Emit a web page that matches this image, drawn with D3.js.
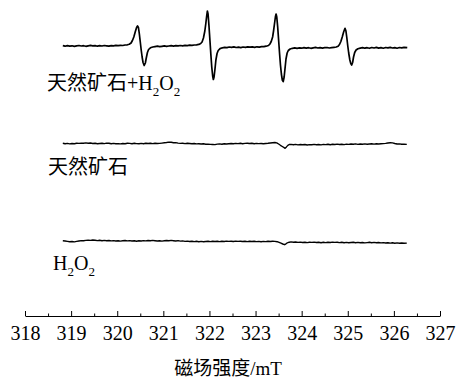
<!DOCTYPE html>
<html>
<head>
<meta charset="utf-8">
<script src="https://cdn.jsdelivr.net/npm/d3@7"></script>
<style>
  html, body { margin: 0; padding: 0; background: #fff; }
  svg { display: block; }
  text { font-family: "Liberation Serif", "Times New Roman", "Noto Sans CJK SC", serif; fill: #000; }
</style>
</head>
<body>
<svg width="456" height="378"></svg>
<script>
// EPR spectra, field in mT, intensity in a.u.
const majorTicks = [318, 319, 320, 321, 322, 323, 324, 325, 326, 327];
const minorTicks = [318.5, 319.5, 320.5, 321.5, 322.5, 323.5, 324.5, 325.5, 326.5];
const xTitle = '磁场强度/mT';

const traceNames = ['天然矿石+H2O2', '天然矿石', 'H2O2'];

// 天然矿石 + H2O2 : DMPO-OH quartet
const oreH2O2 = [
  [318.82,0.3],[318.87,-0.2],[318.92,0.4],[318.97,-0.1],[319.02,0.2],[319.07,-0.4],[319.12,0.1],[319.17,0.5],
  [319.22,0.0],[319.27,0.3],[319.32,-0.3],[319.37,0.2],[319.42,0.6],[319.47,0.1],[319.52,0.4],[319.57,-0.2],
  [319.62,0.3],[319.67,0.0],[319.72,0.5],[319.77,0.2],[319.82,-0.1],[319.87,0.4],[319.92,0.1],[319.97,0.6],
  [320.02,0.3],[320.07,0.7],[320.12,0.5],[320.17,1.0],[320.22,1.2],
  [320.26,1.8],[320.30,3.0],[320.33,5.5],[320.36,9],[320.39,14],[320.42,18.5],[320.44,20],[320.46,18.5],
  [320.48,12],[320.50,4],[320.52,-4],[320.54,-11],[320.56,-16.5],[320.585,-19.5],[320.61,-17],[320.63,-12],
  [320.655,-6.5],[320.68,-3.5],[320.72,-1.8],[320.77,-1.0],[320.82,-0.6],
  [320.87,-0.2],[320.92,-0.7],[320.97,-0.3],[321.02,0.1],[321.07,-0.4],[321.12,0.0],[321.17,0.3],[321.22,-0.1],
  [321.27,0.4],[321.32,0.1],[321.37,0.5],[321.42,0.2],[321.47,0.6],[321.52,0.3],[321.57,0.8],[321.62,0.6],
  [321.67,1.0],[321.72,1.2],[321.77,1.6],[321.81,2.5],
  [321.84,4],[321.87,8],[321.90,15],[321.92,22],[321.94,30],[321.955,35],[321.97,32],[321.99,20],[322.01,6],
  [322.03,-8],[322.05,-21],[322.07,-30],[322.085,-33.5],[322.10,-31],[322.12,-23],[322.14,-14],[322.165,-7.5],
  [322.19,-4.5],[322.23,-2.6],[322.28,-1.8],[322.33,-1.3],
  [322.38,-1.6],[322.43,-1.0],[322.48,-1.4],[322.53,-0.9],[322.58,-1.5],[322.63,-1.1],[322.68,-1.6],[322.73,-1.0],
  [322.78,-1.3],[322.83,-0.8],[322.88,-1.2],[322.93,-0.9],[322.98,-1.4],[323.03,-0.8],[323.08,-1.1],[323.13,-0.6],
  [323.18,-0.7],[323.23,-0.2],[323.28,0.5],
  [323.31,1.8],[323.34,4.5],[323.37,9],[323.39,15],[323.41,22],[323.43,29],[323.445,32],[323.46,29],[323.48,19],
  [323.50,6],[323.52,-7],[323.54,-19],[323.56,-28],[323.58,-34],[323.60,-35.7],[323.62,-31],[323.64,-22],
  [323.66,-13],[323.685,-7],[323.71,-4.5],[323.75,-3],[323.80,-2.3],
  [323.85,-1.9],[323.90,-2.3],[323.95,-1.8],[324.00,-2.2],[324.05,-1.6],[324.10,-2.1],[324.15,-1.7],[324.20,-2.3],
  [324.25,-1.8],[324.30,-1.4],[324.35,-2.0],[324.40,-1.6],[324.45,-2.1],[324.50,-1.7],[324.55,-1.5],[324.60,-2.0],
  [324.65,-1.6],[324.70,-1.3],[324.75,-1.0],
  [324.79,-0.2],[324.82,1.5],[324.85,4.5],[324.88,9],[324.91,14],[324.94,17.7],[324.96,15],[324.98,8],[325.00,0],
  [325.02,-7],[325.045,-14],[325.065,-17.5],[325.085,-19],[325.105,-16.5],[325.125,-11],[325.15,-6.5],[325.18,-4],
  [325.22,-2.7],[325.27,-2.1],
  [325.32,-1.6],[325.37,-2.2],[325.42,-1.7],[325.47,-2.3],[325.52,-1.5],[325.57,-2.0],[325.62,-1.4],[325.67,-2.1],
  [325.72,-1.6],[325.77,-2.2],[325.82,-1.5],[325.87,-1.9],[325.92,-1.4],[325.97,-2.0],[326.02,-1.6],[326.07,-2.2],
  [326.12,-1.5],[326.17,-1.9],[326.22,-1.4],[326.29,-1.7]
];

// 天然矿石 alone
const ore = [
  [318.82,0.2],[318.87,-0.3],[318.92,0.1],[318.97,-0.4],[319.02,0.0],[319.07,-0.2],[319.12,0.3],[319.17,0.1],
  [319.22,0.4],[319.27,0.2],[319.32,0.6],[319.37,0.3],[319.42,0.5],[319.47,0.0],[319.52,0.2],[319.57,-0.3],
  [319.62,0.0],[319.67,0.3],[319.72,-0.1],[319.77,0.4],[319.82,0.2],[319.87,-0.2],[319.92,0.1],[319.97,-0.3],
  [320.02,-0.1],[320.07,-0.4],[320.12,0.0],[320.17,-0.2],[320.22,0.3],[320.27,0.1],[320.32,-0.2],[320.37,0.2],
  [320.42,-0.1],[320.47,-0.3],[320.52,0.1],[320.57,-0.2],[320.62,0.3],[320.67,0.0],[320.72,0.3],[320.77,-0.1],
  [320.82,0.2],[320.87,0.0],[320.92,0.1],[320.97,0.4],[321.02,0.7],[321.07,1.0],[321.12,1.4],[321.17,1.2],
  [321.22,0.7],[321.27,0.9],[321.32,0.4],[321.37,0.1],[321.42,0.3],[321.47,-0.1],[321.52,0.2],[321.57,0.0],
  [321.62,-0.3],[321.67,0.0],[321.72,-0.4],[321.77,-0.2],[321.82,-0.5],[321.87,-0.3],[321.92,-0.7],[321.97,-0.6],
  [322.02,-0.9],[322.07,-1.0],[322.12,-1.1],[322.17,-0.6],[322.22,-0.4],[322.27,-0.7],[322.32,-0.3],[322.37,-0.5],
  [322.42,-0.2],[322.47,0.0],[322.52,-0.3],[322.57,0.1],[322.62,-0.1],[322.67,0.2],[322.72,-0.2],[322.77,0.1],
  [322.82,0.3],[322.87,0.0],[322.92,0.2],[322.97,-0.2],[323.02,0.1],[323.07,-0.1],[323.12,0.0],[323.17,-0.2],
  [323.22,0.0],[323.27,0.2],[323.32,0.5],[323.37,0.8],[323.42,1.0],[323.46,0.6],[323.50,-0.5],[323.54,-1.8],
  [323.58,-3.0],[323.62,-4.2],[323.64,-4.8],[323.67,-3.4],[323.70,-1.9],[323.73,-1.0],[323.77,-0.9],[323.82,-1.2],
  [323.87,-0.9],[323.92,-1.4],[323.97,-1.0],[324.02,-1.3],[324.07,-1.0],[324.12,-1.5],[324.17,-1.1],[324.22,-1.3],
  [324.27,-0.9],[324.32,-1.2],[324.37,-1.0],[324.42,-1.4],[324.47,-0.9],[324.52,-1.1],[324.57,-0.7],[324.62,-1.2],
  [324.67,-0.8],[324.72,-1.0],[324.77,-0.6],[324.82,-1.0],[324.87,-0.7],[324.92,-1.1],[324.97,-0.6],[325.02,-0.9],
  [325.07,-0.5],[325.12,-0.8],[325.17,-0.4],[325.22,-0.9],[325.27,-0.5],[325.32,-0.8],[325.37,-0.4],[325.42,-0.7],
  [325.47,-0.5],[325.52,-0.3],[325.57,-0.6],[325.62,-0.2],[325.67,-0.5],[325.72,-0.3],[325.77,-0.1],[325.82,0.1],
  [325.87,0.5],[325.92,0.7],[325.97,0.6],[326.02,0.0],[326.07,-0.5],[326.12,-0.4],[326.17,-0.8],[326.22,-0.6],
  [326.28,-0.9]
];

// H2O2 alone
const h2o2 = [
  [318.82,0.2],[318.87,0.0],[318.92,-0.4],[318.97,-0.8],[319.02,-0.5],[319.07,-0.9],[319.12,-0.4],[319.17,0.0],
  [319.22,0.4],[319.27,0.2],[319.32,0.6],[319.37,0.9],[319.42,0.6],[319.47,1.0],[319.52,0.7],[319.57,0.4],
  [319.62,0.7],[319.67,0.3],[319.72,0.6],[319.77,0.2],[319.82,0.5],[319.87,0.1],[319.92,0.4],[319.97,0.0],
  [320.02,0.3],[320.07,-0.1],[320.12,0.2],[320.17,0.5],[320.22,0.1],[320.27,0.4],[320.32,0.0],[320.37,0.3],
  [320.42,-0.2],[320.47,0.2],[320.52,0.0],[320.57,0.4],[320.62,0.1],[320.67,0.5],[320.72,0.2],[320.77,0.6],
  [320.82,0.3],[320.87,0.0],[320.92,0.3],[320.97,-0.1],[321.02,0.2],[321.07,0.5],[321.12,0.2],[321.17,0.6],
  [321.22,0.3],[321.27,0.0],[321.32,0.4],[321.37,-0.1],[321.42,0.1],[321.47,-0.4],[321.52,-0.1],[321.57,-0.5],
  [321.62,-0.2],[321.67,-0.6],[321.72,-0.3],[321.77,-0.7],[321.82,-0.4],[321.87,-0.8],[321.92,-0.5],[321.97,-0.3],
  [322.02,-0.6],[322.07,-0.2],[322.12,-0.5],[322.17,-0.3],[322.22,-0.6],[322.27,-0.2],[322.32,-0.5],[322.37,-0.1],
  [322.42,-0.4],[322.47,-0.2],[322.52,-0.5],[322.57,-0.1],[322.62,-0.4],[322.67,-0.2],[322.72,-0.5],[322.77,-0.3],
  [322.82,-0.6],[322.87,-0.2],[322.92,-0.5],[322.97,-0.3],[323.02,-0.6],[323.07,-0.4],[323.12,-0.7],[323.17,-0.4],
  [323.22,-0.6],[323.27,-0.3],[323.32,-0.5],[323.37,-0.3],[323.42,-0.4],[323.47,-0.7],[323.51,-1.4],[323.55,-2.2],
  [323.59,-3.0],[323.63,-3.7],[323.66,-2.8],[323.69,-1.8],[323.73,-1.2],[323.77,-0.9],[323.82,-1.3],[323.87,-1.0],
  [323.92,-1.4],[323.97,-1.1],[324.02,-1.5],[324.07,-1.2],[324.12,-1.6],[324.17,-1.2],[324.22,-1.4],[324.27,-1.1],
  [324.32,-1.5],[324.37,-1.3],[324.42,-1.7],[324.47,-1.3],[324.52,-1.6],[324.57,-1.2],[324.62,-1.5],[324.67,-1.1],
  [324.72,-1.4],[324.77,-1.2],[324.82,-1.6],[324.87,-1.3],[324.92,-1.7],[324.97,-1.4],[325.02,-1.8],[325.07,-1.5],
  [325.12,-1.3],[325.17,-1.7],[325.22,-1.4],[325.27,-1.8],[325.32,-1.5],[325.37,-1.9],[325.42,-1.6],[325.47,-1.3],
  [325.52,-1.7],[325.57,-1.4],[325.62,-1.8],[325.67,-1.5],[325.72,-1.9],[325.77,-1.6],[325.82,-2.0],[325.87,-1.7],
  [325.92,-2.1],[325.97,-1.8],[326.02,-2.2],[326.07,-1.9],[326.12,-2.3],[326.17,-2.0],[326.22,-2.3],[326.28,-2.1]
];

// vertical stacking offset of each trace, a.u.
const offsets = [195, 97.5, 0];

const serif = '"Liberation Serif", "Times New Roman", "Noto Sans CJK SC", serif';
const svg = d3.select('svg');

const x = d3.scaleLinear().domain([318, 327]).range([25, 440]);
const y = d3.scaleLinear().domain([0, 241]).range([241, 0]);

const traces = [oreH2O2, ore, h2o2];
const line = d3.line()
  .x(d => x(d[0]))
  .y(d => d[1]);

svg.append('g')
  .attr('class', 'traces')
  .selectAll('path')
  .data(traces)
  .enter()
  .append('path')
  .attr('fill', 'none')
  .attr('stroke', '#000')
  .attr('stroke-width', (d, i) => i === 0 ? 1.7 : 1.4)
  .attr('stroke-linejoin', 'round')
  .attr('d', (d, i) => line(d.map(p => [p[0], y(p[1] + offsets[i])])));

// labels under each trace, subscripts drawn with tspans
const labelPos = [[47, 90], [48, 173.5], [53, 270]];
const labels = svg.append('g').attr('class', 'labels')
  .attr('font-family', serif)
  .style('font-size', '20px');

traceNames.forEach((name, i) => {
  const t = labels.append('text')
    .attr('x', labelPos[i][0])
    .attr('y', labelPos[i][1]);
  // split digits out as subscripts
  name.split(/(\d)/).filter(s => s.length).forEach(part => {
    if (/\d/.test(part)) {
      t.append('tspan').attr('dy', 6).style('font-size', '13px').text(part);
    } else {
      const ts = t.append('tspan').text(part);
      if (t.selectAll('tspan').size() > 1) ts.attr('dy', -6);
    }
  });
});

// x axis, ticks point up into the plot
const axisY = 316;
svg.append('g')
  .attr('transform', `translate(0,${axisY})`)
  .call(d3.axisBottom(x).tickValues(minorTicks).tickSizeInner(-2.5).tickSizeOuter(0).tickFormat(''))
  .call(g => g.select('.domain').remove());

const ax = svg.append('g')
  .attr('transform', `translate(0,${axisY})`)
  .call(d3.axisBottom(x).tickValues(majorTicks).tickSizeInner(-5).tickSizeOuter(0).tickPadding(10).tickFormat(d3.format('d')))
  .attr('font-family', serif)
  .attr('font-size', 20);
ax.selectAll('text')
  .style('font-family', serif)
  .style('font-size', '20px')
  .attr('fill', '#000');
ax.selectAll('line, path').attr('stroke', '#000');

svg.append('text')
  .attr('x', 228)
  .attr('y', 375)
  .attr('text-anchor', 'middle')
  .attr('font-family', serif)
  .style('font-size', '19px')
  .text(xTitle);
</script>
</body>
</html>
